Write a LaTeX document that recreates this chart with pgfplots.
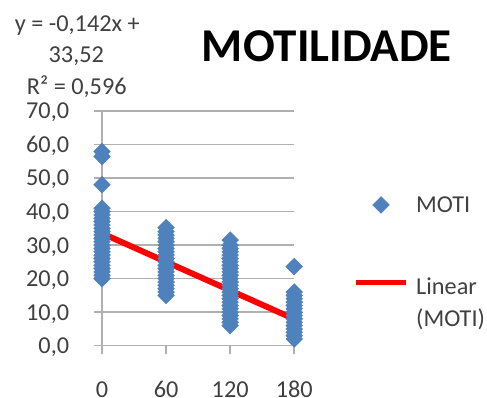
\documentclass[border=0pt]{standalone}
\usepackage{pgfplots}
\pgfplotsset{compat=1.18}
\usepackage{fontspec}
\setmainfont{Carlito}
\definecolor{excelblue}{HTML}{4F81BD}
\definecolor{gridgray}{HTML}{B0B0B0}
\definecolor{txtgray}{HTML}{404040}

\pgfplotsset{
  markimg/.style={legend image code/.code={\draw[mark repeat=2,mark phase=2,##1] plot coordinates {(0pt,0pt) (25pt,0pt) (50pt,0pt)};}},
  lineimg/.style={legend image code/.code={\draw[##1, line width=5pt] (0pt,21pt) -- (50pt,21pt);}},
}

\pgfplotstableread{
x y
0 20
0 21
0 22
0 23
0 24
0 25
0 26
0 27
0 28
0 29
0 30
0 31
0 32
0 33
0 34
0 35
0 36
0 37
0 38
0 39
0 40
0 41
0 48
0 56.4
0 57.9
60 15
60 16
60 17
60 18
60 19
60 20
60 21
60 22
60 23
60 24
60 25
60 26
60 27
60 28
60 29
60 30
60 31
60 32
60 33
60 34
60 35.2
120 6
120 7
120 8
120 9
120 10
120 11
120 12
120 13
120 14
120 15
120 16
120 17
120 18
120 19
120 20
120 21
120 22
120 23
120 24
120 25
120 26
120 27
120 28
120 29
120 30
120 31.5
180 2
180 3
180 4
180 5
180 6
180 7
180 8
180 9
180 10
180 11
180 12
180 13
180 14
180 15
180 16
180 23.6
}\moti

\begin{document}
\begin{tikzpicture}[x=1pt,y=1pt]
\path (0,0) rectangle (487,401);
\begin{axis}[
  at={(103pt,52pt)}, anchor=south west,
  scale only axis, width=194pt, height=237pt,
  xmin=0, xmax=180, ymin=0, ymax=70,
  clip=false,
  axis lines*=left,
  axis line style={gridgray, line width=1.5pt},
  xtick={0,60,120,180}, ytick={0,10,...,70},
  ymajorgrids, grid style={gridgray, line width=1.5pt},
  tick align=outside, major tick length=8pt,
  tick style={gridgray, line width=1.5pt},
  /pgf/number format/assume math mode=true,
  yticklabel={\pgfmathprintnumber[fixed, fixed zerofill, precision=1, use comma]{\tick}},
  xticklabel={\pgfmathprintnumber[fixed, precision=0]{\tick}},
  every tick label/.append style={font=\fontsize{24.5}{29}\selectfont, text=txtgray, inner sep=0pt},
  yticklabel style={anchor=base east, xshift=-25pt, yshift=-8pt},
  xticklabel style={anchor=base, yshift=-44pt},
  legend style={draw=none, fill=none, inner sep=0pt,
    at={(axis description cs:1.309,0.6456)}, anchor=north west,
    row sep=61pt, column sep=6pt,
    font=\fontsize{24.5}{32}\selectfont, text=txtgray,
    cells={align=left}},
  legend cell align=left,
]
\addplot[only marks, mark=square*, mark size=6pt,
  mark options={rotate=45, fill=excelblue, draw=excelblue}, markimg]
  table[x=x, y=y] {\moti};
\addlegendentry{MOTI}
\addplot[red, line width=6pt, no marks, lineimg]
  coordinates {(0,33.52) (180,7.96)};
\addlegendentry{Linear\\(MOTI)}
\end{axis}
\node[anchor=base, font=\fontsize{24.5}{29}\selectfont, text=txtgray] at (78,369) {y = -0,142x +};
\node[anchor=base, font=\fontsize{24.5}{29}\selectfont, text=txtgray] at (77,338) {33,52};
\node[anchor=base, font=\fontsize{24.5}{29}\selectfont, text=txtgray] at (77.5,306) {R² = 0,596};
\node[anchor=base, font=\fontsize{47.5}{50}\selectfont\bfseries] at (330,339) {MOTILIDADE};
\end{tikzpicture}
\end{document}
